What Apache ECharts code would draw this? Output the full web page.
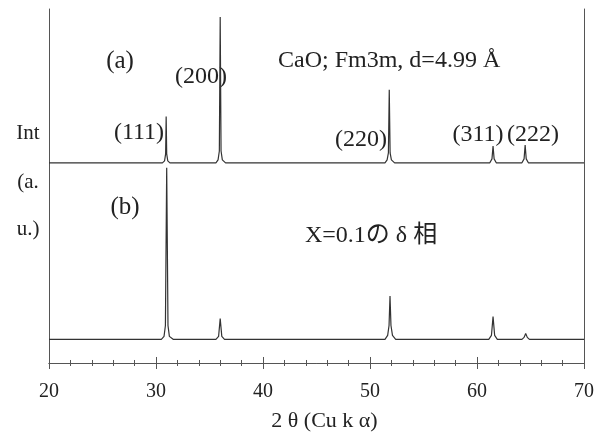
<!DOCTYPE html>
<html><head><meta charset="utf-8">
<script src="https://cdn.jsdelivr.net/npm/echarts@6/dist/echarts.min.js"></script>
<style>html,body{margin:0;padding:0;background:#fff}#c{width:601px;height:437px}</style>
</head><body><div id="c"></div>
<script>
// X range and tick labels
const xTicks = [20, 30, 40, 50, 60, 70];
// Pattern (a): CaO reference, [2theta, intensity (offset units)]
const seriesA = [[20,203],[30.6,203],[30.8,205],[30.9,212],[30.95,250],[31.0,212],[31.1,205],[31.3,203],
  [35.6,203],[35.8,206],[35.92,215],[36.0,351],[36.08,215],[36.2,206],[36.5,203],
  [51.4,203],[51.6,206],[51.72,213],[51.8,277],[51.88,213],[52.0,206],[52.3,203],
  [61.2,203],[61.4,207],[61.5,220],[61.6,207],[61.8,203],
  [64.2,203],[64.4,207],[64.5,221],[64.6,207],[64.8,203],[70,203]];
// Pattern (b): X=0.1 delta phase
const seriesB = [[20,24],[30.5,24],[30.75,27],[30.88,38],[31.0,198],[31.12,38],[31.25,27],[31.6,24],
  [35.6,24],[35.85,27],[36.0,45],[36.15,27],[36.4,24],
  [51.4,24],[51.65,28],[51.78,38],[51.87,68],[51.96,38],[52.1,28],[52.4,24],
  [61.1,24],[61.35,28],[61.5,47],[61.65,28],[61.9,24],
  [64.2,24],[64.4,26],[64.55,30],[64.7,26],[64.9,24],[70,24]];
const peakLabels = ['(111)', '(200)', '(220)', '(311)', '(222)'];

const serif = '"Liberation Serif", "Noto Sans CJK JP", serif';
const chart = echarts.init(document.getElementById('c'));
const axisLine = {show: true, lineStyle: {color: '#555', width: 1}};
function txt(x, y, s, size) {
  return {type: 'text', x: x, y: y, style: {text: s, font: (size || 24) + 'px ' + serif, fill: '#222', align: 'center', verticalAlign: 'middle'}};
}
chart.setOption({
  animation: false,
  grid: {left: 49, right: 17, top: 9, bottom: 69},
  xAxis: [{
    type: 'value', min: 20, max: 70, interval: 10, position: 'bottom',
    axisLine: axisLine,
    axisTick: {show: true, inside: true, length: 6, lineStyle: {color: '#555'}},
    minorTick: {show: true, splitNumber: 5, length: 3, lineStyle: {color: '#555'}},
    splitLine: {show: false},
    axisLabel: {margin: 19, fontSize: 20, color: '#222', fontFamily: serif,
      formatter: v => xTicks.includes(v) ? String(v) : ''},
    name: '2 θ (Cu k α)', nameLocation: 'middle', nameGap: 47,
    nameTextStyle: {fontSize: 22, color: '#222', fontFamily: serif, padding: [0, 0, 0, 16]}
  }, {
    type: 'value', min: 20, max: 70, interval: 10, position: 'top',
    axisLine: axisLine,
    axisTick: {show: true, inside: true, length: 6, lineStyle: {color: '#555'}},
    minorTick: {show: true, splitNumber: 5, length: 3, lineStyle: {color: '#555'}},
    splitLine: {show: false}, axisLabel: {show: false}
  }],
  yAxis: [{
    type: 'value', min: 0, max: 359, position: 'left',
    axisLine: axisLine, axisTick: {show: false}, axisLabel: {show: false}, splitLine: {show: false}
  }, {
    type: 'value', min: 0, max: 359, position: 'right',
    axisLine: axisLine, axisTick: {show: false}, axisLabel: {show: false}, splitLine: {show: false}
  }],
  series: [
    {type: 'line', data: seriesA, showSymbol: false, lineStyle: {color: '#333', width: 1.2}},
    {type: 'line', data: seriesB, showSymbol: false, lineStyle: {color: '#333', width: 1.2}}
  ],
  graphic: [
    txt(28, 133, 'Int', 21), txt(28, 182, '(a.', 21), txt(28, 229, 'u.)', 21),
    txt(120, 61, '(a)', 25), txt(125, 207, '(b)', 25),
    txt(139, 133, peakLabels[0]), txt(201, 77, peakLabels[1]),
    txt(361, 140, peakLabels[2]), txt(478, 135, peakLabels[3]), txt(533, 135, peakLabels[4]),
    {type: 'text', x: 278, y: 61, style: {text: 'CaO; Fm3m, d=4.99 Å', font: '24px ' + serif, fill: '#222', align: 'left', verticalAlign: 'middle'}},
    {type: 'text', x: 305, y: 236, style: {text: 'X=0.1の δ 相', font: '24px ' + serif, fill: '#222', align: 'left', verticalAlign: 'middle'}}
  ]
});
</script></body></html>
